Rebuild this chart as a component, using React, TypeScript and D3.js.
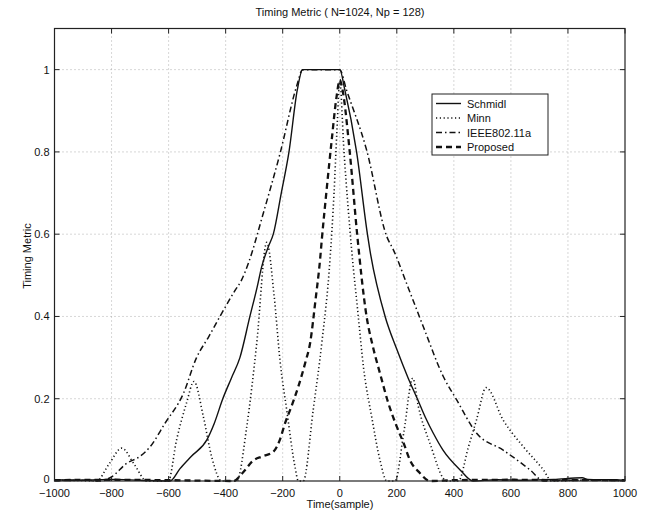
import { useEffect, useRef } from "react";
import * as d3 from "d3";

// time in samples, timing metric value
const schmidl: [number, number][] = [
  [-1000, 0.003], [-900, 0.002], [-800, 0.004], [-700, 0.002], [-595, 0], [-560, 0.03], [-520, 0.06],
  [-466, 0.1], [-440, 0.14], [-410, 0.2], [-380, 0.25], [-350, 0.3], [-315, 0.4], [-290, 0.47],
  [-274, 0.52], [-250, 0.57], [-233, 0.6], [-205, 0.7], [-178, 0.8], [-149, 0.95], [-130, 1], [0, 1],
  [18, 0.95], [59, 0.8], [97, 0.6], [106, 0.56], [159, 0.4], [200, 0.32], [240, 0.25], [272, 0.2],
  [300, 0.155], [328, 0.116], [362, 0.075], [422, 0.027], [467, 0], [550, 0.003], [650, 0.002],
  [750, 0.004], [850, 0.008], [870, 0.004], [950, 0.003], [1000, 0.002],
];
const minn: [number, number][] = [
  [-1000, 0.002], [-900, 0.001], [-852, 0], [-810, 0.04], [-764, 0.08], [-720, 0.04], [-677, 0],
  [-601, 0], [-572, 0.1], [-537, 0.19], [-511, 0.242], [-478, 0.156], [-449, 0.059], [-414, 0],
  [-361, 0], [-326, 0.132], [-291, 0.335], [-256, 0.58], [-230, 0.45], [-209, 0.29], [-186, 0.173],
  [-157, 0.035], [-145, 0], [-128, 0], [-93, 0.173], [-63, 0.335], [-34, 0.54], [-20, 0.7],
  [-10, 0.85], [0, 0.97], [15, 0.8], [42, 0.56], [65, 0.4], [83, 0.278], [112, 0.156], [141, 0.051],
  [165, 0], [194, 0], [225, 0.12], [256, 0.25], [276, 0.18], [316, 0.092], [375, 0], [416, 0],
  [450, 0.08], [480, 0.15], [513, 0.227], [573, 0.148], [644, 0.083], [714, 0.027], [743, 0],
  [850, 0.002], [1000, 0.001],
];
const ieee: [number, number][] = [
  [-1000, 0.001], [-900, 0.002], [-840, 0], [-800, 0.01], [-747, 0.043], [-700, 0.06], [-665, 0.083],
  [-613, 0.14], [-548, 0.213], [-502, 0.3], [-460, 0.35], [-420, 0.4], [-370, 0.46], [-344, 0.489],
  [-320, 0.53], [-268, 0.651], [-209, 0.797], [-151, 0.96], [-130, 1], [0, 1], [24, 0.95], [94, 0.805],
  [165, 0.594], [188, 0.562], [240, 0.47], [293, 0.375], [363, 0.254], [410, 0.197], [480, 0.116],
  [573, 0.075], [667, 0.027], [715, 0], [800, 0.002], [1000, 0.001],
];
const proposed: [number, number][] = [
  [-1000, 0.002], [-800, 0.003], [-600, 0.002], [-373, 0], [-340, 0.02], [-303, 0.05], [-270, 0.06],
  [-233, 0.071], [-210, 0.1], [-192, 0.14], [-170, 0.18], [-145, 0.23], [-120, 0.29], [-104, 0.335],
  [-85, 0.44], [-69, 0.538], [-63, 0.586], [-46, 0.708], [-28, 0.83], [-11, 0.935], [0, 0.975],
  [10, 0.95], [35, 0.8], [61, 0.6], [94, 0.4], [115, 0.33], [141, 0.262], [170, 0.19], [200, 0.132],
  [225, 0.09], [246, 0.051], [280, 0.02], [316, 0], [400, 0.002], [600, 0.003], [800, 0.002], [1000, 0.002],
];

const xTicks = [-1000, -800, -600, -400, -200, 0, 200, 400, 600, 800, 1000];
const yTicks = [0, 0.2, 0.4, 0.6, 0.8, 1];
const legendNames = ["Schmidl", "Minn", "IEEE802.11a", "Proposed"];

const STYLES = [
  { dash: "none", width: 1.4 },
  { dash: "1.2,2.6", width: 1.6 },
  { dash: "6,3,1.5,3", width: 1.5 },
  { dash: "6,4", width: 2.3 },
];

const FONT = "'Liberation Sans', Arial, sans-serif";

export default function App() {
  const ref = useRef<SVGSVGElement>(null);
  useEffect(() => {
    const el = ref.current;
    if (!el) return;
    const W = 648, H = 516;
    const M = { left: 54.5, right: 625, top: 28.5, bottom: 481 };
    const svg = d3.select(el).attr("width", W).attr("height", H);
    svg.selectAll("*").remove();
    svg.append("rect").attr("width", W).attr("height", H).attr("fill", "#fff");

    const x = d3.scaleLinear().domain([-1000, 1000]).range([M.left, M.right]);
    const y = d3.scaleLinear().domain([0, 1.1]).range([M.bottom, M.top]);

    // grid
    xTicks.slice(1, -1).forEach((t) => {
      svg.append("line").attr("x1", x(t)).attr("x2", x(t)).attr("y1", M.top).attr("y2", M.bottom)
        .attr("stroke", "#9a9a9a").attr("stroke-width", 0.8).attr("stroke-dasharray", "1,3");
    });
    yTicks.slice(1).forEach((t) => {
      svg.append("line").attr("x1", M.left).attr("x2", M.right).attr("y1", y(t)).attr("y2", y(t))
        .attr("stroke", "#9a9a9a").attr("stroke-width", 0.8).attr("stroke-dasharray", "1,3");
    });

    // series
    const line = d3.line<[number, number]>().x((d) => x(d[0])).y((d) => y(d[1])).curve(d3.curveMonotoneX);
    [schmidl, minn, ieee, proposed].forEach((data, i) => {
      svg.append("path").attr("d", line(data)).attr("fill", "none").attr("stroke", "#111")
        .attr("stroke-width", STYLES[i].width).attr("stroke-dasharray", STYLES[i].dash)
        .attr("stroke-linejoin", "round");
    });

    // frame + inward ticks
    svg.append("rect").attr("x", M.left).attr("y", M.top).attr("width", M.right - M.left)
      .attr("height", M.bottom - M.top).attr("fill", "none").attr("stroke", "#222").attr("stroke-width", 1.2);
    xTicks.forEach((t) => {
      svg.append("line").attr("x1", x(t)).attr("x2", x(t)).attr("y1", M.bottom).attr("y2", M.bottom - 5).attr("stroke", "#222");
      svg.append("line").attr("x1", x(t)).attr("x2", x(t)).attr("y1", M.top).attr("y2", M.top + 5).attr("stroke", "#222");
      svg.append("text").attr("x", x(t)).attr("y", M.bottom + 16).attr("text-anchor", "middle")
        .attr("font-family", FONT).attr("font-size", 11).attr("fill", "#111")
        .text(t < 0 ? `\u2212${-t}` : `${t}`);
    });
    yTicks.forEach((t) => {
      svg.append("line").attr("x1", M.left).attr("x2", M.left + 5).attr("y1", y(t)).attr("y2", y(t)).attr("stroke", "#222");
      svg.append("line").attr("x1", M.right).attr("x2", M.right - 5).attr("y1", y(t)).attr("y2", y(t)).attr("stroke", "#222");
      svg.append("text").attr("x", M.left - 5).attr("y", y(t) + (t === 0 ? 2 : 4)).attr("text-anchor", "end")
        .attr("font-family", FONT).attr("font-size", 11).attr("fill", "#111").text(`${t}`);
    });

    // labels
    svg.append("text").attr("x", 340).attr("y", 16).attr("text-anchor", "middle").attr("font-family", FONT)
      .attr("font-size", 11).attr("fill", "#111").text("Timing Metric ( N=1024, Np = 128)");
    svg.append("text").attr("x", 340).attr("y", 508).attr("text-anchor", "middle").attr("font-family", FONT)
      .attr("font-size", 11).attr("fill", "#111").text("Time(sample)");
    svg.append("text").attr("transform", `translate(31,256) rotate(-90)`)
      .attr("text-anchor", "middle").attr("font-family", FONT).attr("font-size", 11).attr("fill", "#111")
      .text("Timing Metric");

    // legend
    const lg = svg.append("g").attr("transform", "translate(432,94)");
    lg.append("rect").attr("width", 116).attr("height", 61).attr("fill", "#fff").attr("stroke", "#222").attr("stroke-width", 1);
    legendNames.forEach((name, i) => {
      const ly = 9.5 + i * 14.5;
      lg.append("line").attr("x1", 4).attr("x2", 29).attr("y1", ly).attr("y2", ly).attr("stroke", "#111")
        .attr("stroke-width", STYLES[i].width).attr("stroke-dasharray", STYLES[i].dash);
      lg.append("text").attr("x", 35).attr("y", ly + 4).attr("font-family", FONT).attr("font-size", 11)
        .attr("fill", "#111").text(name);
    });
  }, []);
  return <svg ref={ref} style={{ position: "absolute", left: 0, top: 0 }} />;
}
